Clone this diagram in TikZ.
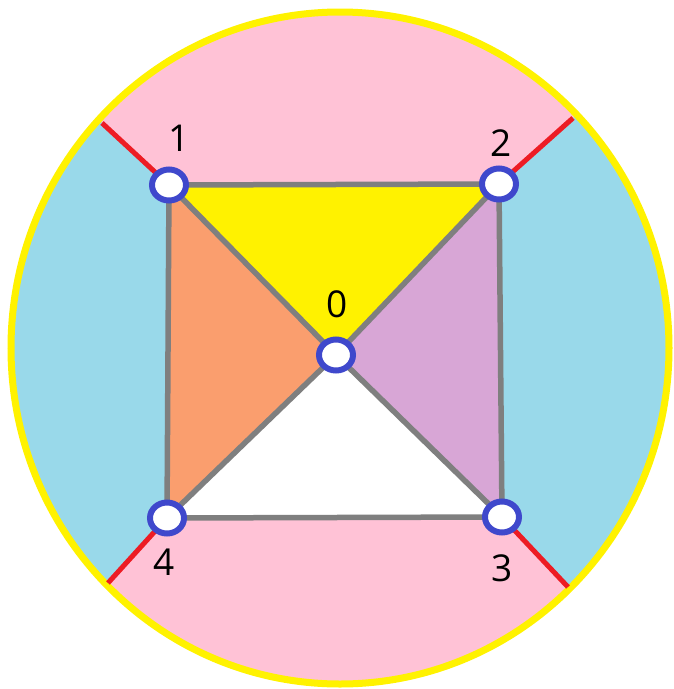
\documentclass[tikz,border=0pt]{standalone}
\usepackage{fontspec}
\setmainfont{Open Sans}
\usetikzlibrary{shapes.geometric}
\definecolor{pinkc}{RGB}{255,194,214}
\definecolor{bluec}{RGB}{153,217,234}
\definecolor{yelc}{RGB}{255,242,0}
\definecolor{orc}{RGB}{250,158,110}
\definecolor{purc}{RGB}{216,166,214}
\definecolor{grayc}{RGB}{127,127,127}
\definecolor{redc}{RGB}{237,28,36}
\definecolor{nodec}{RGB}{63,72,204}
\pgfdeclarelayer{bg}
\pgfdeclarelayer{edges}
\pgfsetlayers{bg,edges,main}
\tikzset{
  vtx/.style={ellipse,draw=nodec,line width=6pt,fill=white,minimum width=34pt,minimum height=31pt,inner sep=0pt},
  lbl/.style={font=\fontsize{37}{40}\selectfont,inner sep=0pt,text=black},
  edge/.style={draw=grayc,line width=5.5pt},
  ray/.style={draw=redc,line width=5pt}
}
\begin{document}
\begin{tikzpicture}[x=1pt,y=-1pt]
\useasboundingbox (0,0) rectangle (674,689);
% coordinates
\coordinate (p1) at (169,185);
\coordinate (p2) at (499,184);
\coordinate (p3) at (502,517);
\coordinate (p4) at (167,518);
\coordinate (p0) at (336,355);
\coordinate (r1) at (102,123);
\coordinate (r2) at (573,118);
\coordinate (r3) at (568,587);
\coordinate (r4) at (108,583);
% nodes
\node[vtx] (n1) at (p1) {};
\node[vtx] (n2) at (p2) {};
\node[vtx] (n3) at (p3) {};
\node[vtx] (n4) at (p4) {};
\node[vtx] (n0) at (p0) {};
\begin{pgfonlayer}{bg}
% background
\fill[pinkc] (340,348) ellipse [x radius=329, y radius=336];
\begin{scope}
  \clip (340,348) ellipse [x radius=329, y radius=336];
  \fill[bluec] (p1) -- (-10,19) -- (-10,713) -- (p4) -- cycle;
  \fill[bluec] (p2) -- (690,14) -- (690,716) -- (p3) -- cycle;
\end{scope}
% triangles
\fill[yelc] (p1) -- (p2) -- (p0) -- cycle;
\fill[orc] (p1) -- (p0) -- (p4) -- cycle;
\fill[purc] (p2) -- (p3) -- (p0) -- cycle;
\fill[white] (p0) -- (p3) -- (p4) -- cycle;
% outline
\draw[yelc,line width=7pt] (340,348) ellipse [x radius=329, y radius=336];
\end{pgfonlayer}
\begin{pgfonlayer}{edges}
\draw[ray] (n1.center) -- (r1);
\draw[ray] (n2.center) -- (r2);
\draw[ray] (n3.center) -- (r3);
\draw[ray] (n4.center) -- (r4);
\draw[edge] (n1.center) -- (n2.center);
\draw[edge] (n2.center) -- (n3.center);
\draw[edge] (n3.center) -- (n4.center);
\draw[edge] (n4.center) -- (n1.center);
\draw[edge] (n1.center) -- (n0.center);
\draw[edge] (n2.center) -- (n0.center);
\draw[edge] (n3.center) -- (n0.center);
\draw[edge] (n4.center) -- (n0.center);
\end{pgfonlayer}
% labels
\node[lbl] (l1) at (179,138) {1};
\node[lbl] (l2) at (501,143) {2};
\node[lbl] (l0) at (337,304) {0};
\node[lbl] (l4) at (164,562) {4};
\node[lbl] (l3) at (502,568) {3};
\end{tikzpicture}
\end{document}
